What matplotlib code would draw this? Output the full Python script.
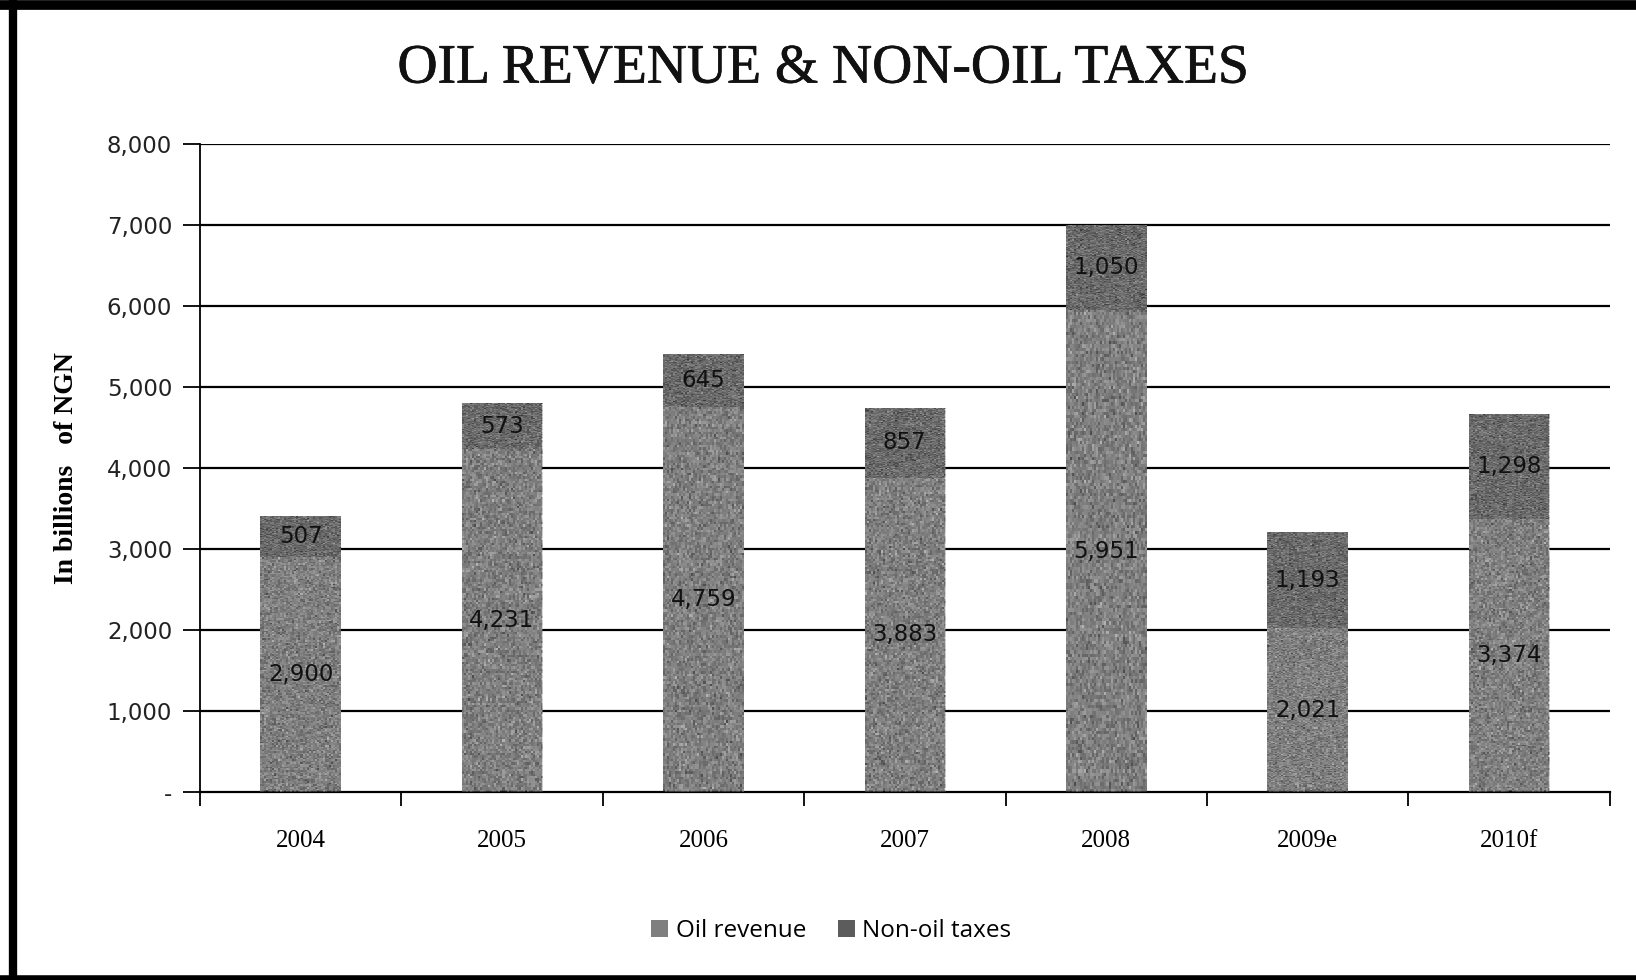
import matplotlib.pyplot as plt
import matplotlib.patheffects as pe
import numpy as np
from matplotlib.lines import Line2D

# revenue figures, billions of NGN
years = ['2004', '2005', '2006', '2007', '2008', '2009e', '2010f']
oil_revenue = [2900, 4231, 4759, 3883, 5951, 2021, 3374]
non_oil_taxes = [507, 573, 645, 857, 1050, 1193, 1298]
yticks = [0, 1000, 2000, 3000, 4000, 5000, 6000, 7000, 8000]
ytick_labels = ['-', '1,000', '2,000', '3,000', '4,000', '5,000', '6,000', '7,000', '8,000']

oil_col = '#7f7f7f'
tax_col = '#5c5c5c'

fig = plt.figure(figsize=(16.36, 9.8), dpi=100)
ax = fig.add_axes([0.1222, 0.1918, 0.8618, 0.6612])

x = np.arange(len(years))
w = 0.4

# gridlines behind the bars
for t in yticks[1:]:
    ax.axhline(t, color='black', lw=1.6, zorder=1)

b1 = ax.bar(x, oil_revenue, w, color=oil_col, zorder=2, label='Oil revenue')
b2 = ax.bar(x, non_oil_taxes, w, bottom=oil_revenue, color=tax_col, zorder=2,
            label='Non-oil taxes')

# grainy print texture on the bars
rng = np.random.default_rng(3)
for rect in list(b1) + list(b2):
    noise = rng.normal(0, 1, (150, 40))
    img = ax.imshow(noise, cmap='gray', vmin=-3, vmax=3, alpha=0.4,
                    extent=[rect.get_x(), rect.get_x() + rect.get_width(),
                            rect.get_y(), rect.get_y() + rect.get_height()],
                    aspect='auto', zorder=3, interpolation='nearest')
    img.set_clip_path(rect)

for i in range(len(years)):
    ax.text(x[i], oil_revenue[i] / 2, f'{oil_revenue[i]:,}', ha='center', va='center',
            fontsize=16.5, family='DejaVu Sans', color='#111111', zorder=4)
    ax.text(x[i], oil_revenue[i] + non_oil_taxes[i] / 2, f'{non_oil_taxes[i]:,}',
            ha='center', va='center', fontsize=16.5, family='DejaVu Sans',
            color='#111111', zorder=4)

ax.set_xlim(-0.5, len(years) - 0.5)
ax.set_ylim(0, 8000)
ax.set_yticks(yticks)
ax.set_yticklabels(ytick_labels, fontsize=16.5, family='DejaVu Sans', color='#222222')
ax.tick_params(axis='y', length=12, width=1.3, pad=8, color='black')

# category ticks sit on the boundaries, labels in the middle
ax.set_xticks(np.arange(len(years) + 1) - 0.5)
ax.set_xticklabels([])
ax.set_xticks(x, minor=True)
ax.set_xticklabels(years, minor=True, fontsize=18, family='Liberation Serif')
ax.tick_params(axis='x', which='major', length=10, width=1.3, direction='out')
ax.tick_params(axis='x', which='minor', length=0, pad=27)

for s in ['top', 'right']:
    ax.spines[s].set_visible(False)
ax.spines['left'].set_linewidth(1.3)
ax.spines['bottom'].set_linewidth(1.6)

ax.set_ylabel('In billions   of NGN', fontsize=20, family='Liberation Serif',
              fontweight='bold', labelpad=20)

title = fig.text(0.503, 0.93, 'OIL REVENUE & NON-OIL TAXES', ha='center', va='center',
                 fontsize=40, family='Liberation Serif', color='#111111')
title.set_path_effects([pe.withStroke(linewidth=0.5, foreground='#111111')])

fig.legend(handles=[b1, b2], loc='center', bbox_to_anchor=(0.508, 0.05), ncol=2,
           frameon=False, prop={'family': 'Open Sans', 'size': 17.5},
           handlelength=0.7, handleheight=0.7, handletextpad=0.3, columnspacing=1.3)

# frame lines from the page border
fig.add_artist(Line2D([0, 1], [0.995, 0.995], transform=fig.transFigure, color='black', lw=7))
fig.add_artist(Line2D([0.008, 0.008], [0, 1], transform=fig.transFigure, color='black', lw=6))
fig.add_artist(Line2D([0, 1], [0.002, 0.002], transform=fig.transFigure, color='black', lw=4))

fig.savefig('out.png', dpi=100)
